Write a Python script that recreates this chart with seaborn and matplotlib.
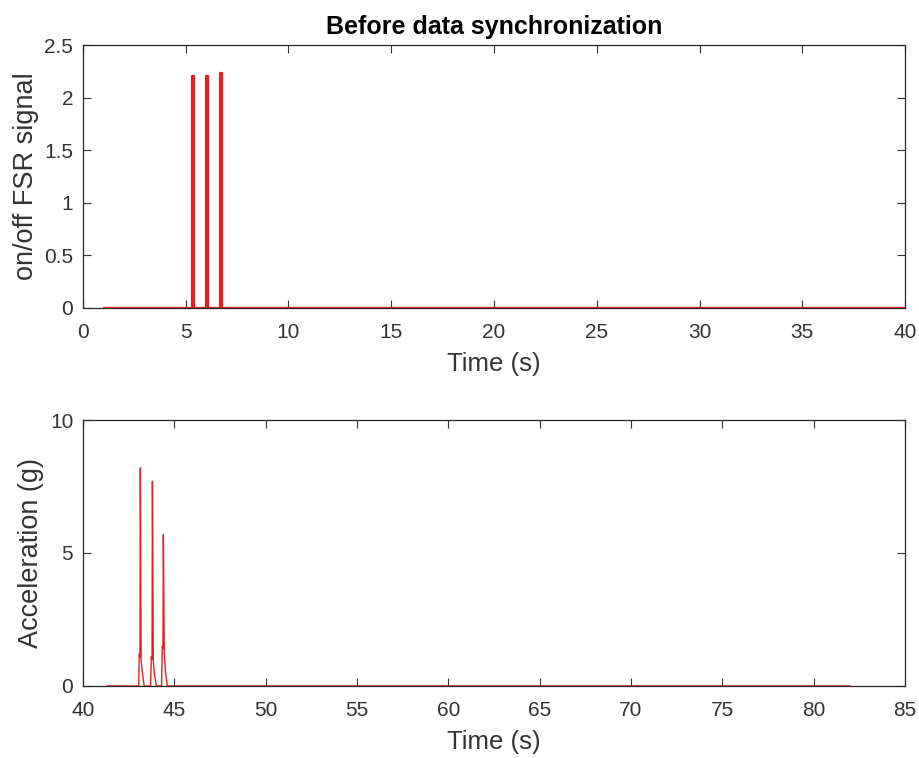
import numpy as np
import pandas as pd
import matplotlib
matplotlib.use("Agg")
import matplotlib.pyplot as plt
import seaborn as sns

# ---- data ----
fsr_time = [1.0, 5.30, 5.30, 5.40, 5.40, 5.98, 5.98, 6.08, 6.08, 6.65, 6.65, 6.75, 6.75, 40.0]
fsr_value = [0.0, 0.0, 2.21, 2.21, 0.0, 0.0, 2.21, 2.21, 0.0, 0.0, 2.23, 2.23, 0.0, 0.0]

acc_time = [41.3, 43.05, 43.08, 43.12, 43.14, 43.18, 43.25, 43.35,
            43.70, 43.74, 43.78, 43.80, 43.85, 43.92, 44.02,
            44.30, 44.34, 44.38, 44.40, 44.45, 44.52, 44.62, 82.0]
acc_value = [0.0, 0.0, 1.2, 1.1, 8.2, 1.0, 0.5, 0.0,
             0.0, 1.1, 1.0, 7.7, 0.9, 0.4, 0.0,
             0.0, 1.5, 1.4, 5.7, 1.2, 0.5, 0.0, 0.0]

title = "Before data synchronization"
top_ylabel = "on/off FSR signal"
bottom_ylabel = "Acceleration (g)"
xlabel = "Time (s)"
top_xticks = [0, 5, 10, 15, 20, 25, 30, 35, 40]
top_yticks = [0, 0.5, 1, 1.5, 2, 2.5]
bottom_xticks = [40, 45, 50, 55, 60, 65, 70, 75, 80, 85]
bottom_yticks = [0, 5, 10]

sns.set_style("white")
plt.rcParams['font.family'] = ['Liberation Sans', 'DejaVu Sans']

fig = plt.figure(figsize=(9.19, 7.58), dpi=100)
ax1 = fig.add_axes([0.0903, 0.5937, 0.8945, 0.3469])
ax2 = fig.add_axes([0.0903, 0.0950, 0.8945, 0.3509])

red = "#e81e1e"
df1 = pd.DataFrame({"t": fsr_time, "v": fsr_value})
df2 = pd.DataFrame({"t": acc_time, "v": acc_value})
sns.lineplot(data=df1, x="t", y="v", ax=ax1, estimator=None, sort=False,
             color=red, linewidth=1.6, zorder=1)
sns.lineplot(data=df2, x="t", y="v", ax=ax2, estimator=None, sort=False,
             color=red, linewidth=1.0, zorder=1)

txt = "#333333"

def style(ax, xt, yt, xlim, ylim, ylabel):
    ax.set_xlim(*xlim)
    ax.set_ylim(*ylim)
    ax.set_xticks(xt)
    ax.set_yticks(yt)
    ax.set_xticklabels([f"{v:g}" for v in xt])
    ax.set_yticklabels([f"{v:g}" for v in yt])
    ax.set_xlabel(xlabel, fontsize=18.5, color=txt, labelpad=7)
    ax.set_ylabel(ylabel, fontsize=19.5, color=txt, labelpad=4)
    ax.tick_params(axis="both", direction="in", length=6, width=0.8, colors=txt,
                   labelsize=15, top=True, right=True, bottom=True, left=True)
    ax.tick_params(axis="x", pad=11)
    ax.tick_params(axis="y", pad=7)
    for s in ax.spines.values():
        s.set_visible(True)
        s.set_color("#262626")
        s.set_linewidth(0.9)
        s.set_zorder(3)
    ax.grid(False)

style(ax1, top_xticks, top_yticks, (0, 40), (0, 2.5), top_ylabel)
style(ax2, bottom_xticks, bottom_yticks, (40, 85), (0, 10), bottom_ylabel)
ax1.set_title(title, fontsize=18, fontweight="bold", color="black", pad=8)

fig.savefig("out.png", dpi=100)
